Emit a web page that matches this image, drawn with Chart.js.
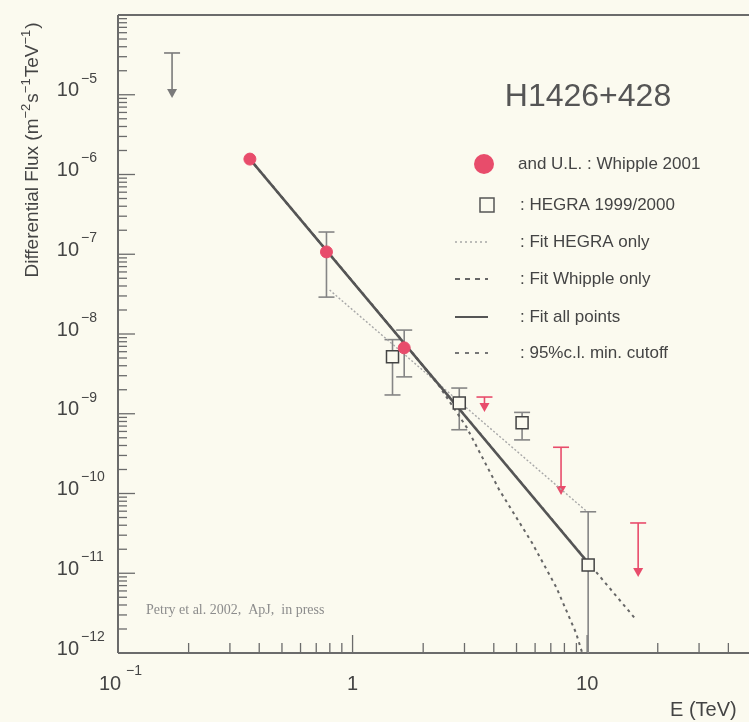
<!DOCTYPE html>
<html><head><meta charset="utf-8">
<script src="https://cdn.jsdelivr.net/npm/chart.js@4.4.1/dist/chart.umd.min.js"></script>
<style>
html,body{margin:0;padding:0;background:#fbfaef;overflow:hidden}
#wrap{width:749px;height:722px;position:relative}
</style></head><body>
<div id="wrap"><canvas id="ch" width="749" height="722"></canvas></div>
<script>
// values: E in TeV, flux in m^-2 s^-1 TeV^-1
const whippleE  = [0.365, 0.774, 1.66];
const whippleF  = [1.56e-6, 1.07e-7, 6.7e-9];
const whippleLo = [null, 2.9e-8, 2.9e-9];
const whippleHi = [null, 1.9e-7, 1.12e-8];

const whippleUlE   = [3.65, 7.74, 16.5];
const whippleUlTop = [1.62e-9, 3.8e-10, 4.27e-11];
const whippleUlTip = [1.05e-9, 9.6e-11, 9.0e-12];

const otherUlE   = [0.17];
const otherUlTop = [3.34e-5];
const otherUlTip = [9.1e-6];

const hegraE  = [1.48, 2.85, 5.28, 10.1];
const hegraF  = [5.2e-9, 1.36e-9, 7.7e-10, 1.27e-11];
const hegraLo = [1.72e-9, 6.3e-10, 4.7e-10, 1e-12];
const hegraHi = [8.5e-9, 2.1e-9, 1.04e-9, 5.9e-11];

const fitAllE  = [0.365, 10.1],  fitAllF  = [1.56e-6, 1.35e-11];
const fitWhipE = [0.365, 16.2],  fitWhipF = [1.56e-6, 2.6e-12];
const fitHegE  = [0.798, 10],    fitHegF  = [3.56e-8, 5.9e-11];
const cutE = [0.365, 1.66, 2.34, 3.06, 4.22, 5.83, 7.38, 8.97, 9.53];
const cutF = [1.56e-6, 7.7e-9, 2.23e-9, 6.8e-10, 1.11e-10, 2.39e-11, 6.7e-12, 1.78e-12, 1e-12];

const xMin=0.1, xMax=44.4, yMin=1e-12, yMax=1e-4;
const yDecades=[-12,-11,-10,-9,-8,-7,-6,-5];
const xDecades=[-1,0,1];
const xLabels=[['10','−1'],['1',''],['10','']];
const legendText=['and U.L. : Whipple 2001',': HEGRA 1999/2000',': Fit HEGRA only',': Fit Whipple only',': Fit all points',': 95%c.l. min. cutoff'];

const BG='#fbfaef';
const C={axis:'#6b6b6b',text:'#444',red:'#e84c6b',err:'#858585',fit:'#555',hegFit:'#a8a8a8'};
const SANS='"Liberation Sans", Arial, sans-serif';
const pts=(xs,ys)=>xs.map((x,i)=>({x,y:ys[i]}));

function line(ctx,x1,y1,x2,y2){ ctx.beginPath(); ctx.moveTo(x1,y1); ctx.lineTo(x2,y2); ctx.stroke(); }

function errBars(ctx,xs,ys,E,lo,hi){
  ctx.strokeStyle=C.err; ctx.lineWidth=1.6;
  E.forEach((e,i)=>{
    if(lo[i]==null) return;
    const px=xs.getPixelForValue(e), a=ys.getPixelForValue(hi[i]), b=Math.min(ys.getPixelForValue(lo[i]),ys.bottom);
    line(ctx,px,a,px,b);
    line(ctx,px-8,a,px+8,a);
    if(b<ys.bottom-1) line(ctx,px-8,b,px+8,b);
  });
}

function upperLimits(ctx,xs,ys,E,top,tip,col){
  ctx.strokeStyle=col; ctx.fillStyle=col; ctx.lineWidth=1.6;
  E.forEach((e,i)=>{
    const px=xs.getPixelForValue(e), a=ys.getPixelForValue(top[i]), b=ys.getPixelForValue(tip[i]);
    line(ctx,px-8,a,px+8,a);
    line(ctx,px,a,px,b-6);
    ctx.beginPath(); ctx.moveTo(px-5,b-9); ctx.lineTo(px+5,b-9); ctx.lineTo(px,b); ctx.closePath(); ctx.fill();
  });
}

// frame, inward log ticks, labels, legend, error bars
const paper={
  id:'paper',
  beforeDatasetsDraw(chart){
    const {ctx,chartArea:ca,scales:{x:xs,y:ys}}=chart;
    ctx.save();
    ctx.strokeStyle=C.axis; ctx.lineWidth=2;
    line(ctx,ca.left,ca.top,chart.width,ca.top);
    line(ctx,ca.left,ca.top,ca.left,ca.bottom);
    line(ctx,ca.left,ca.bottom,chart.width,ca.bottom);
    ctx.lineWidth=1.3;
    yDecades.forEach(d=>{
      for(let k=1;k<=9;k++){
        const v=k*Math.pow(10,d); if(v>=yMax) break;
        const py=ys.getPixelForValue(v);
        line(ctx,ca.left,py,ca.left+(k===1?17:9),py);
      }
    });
    xDecades.forEach(d=>{
      for(let k=1;k<=9;k++){
        const v=k*Math.pow(10,d); if(v>xMax) break;
        const px=xs.getPixelForValue(v);
        line(ctx,px,ca.bottom,px,ca.bottom-(k===1?18:10));
      }
    });

    // tick labels
    ctx.fillStyle=C.text; ctx.textBaseline='middle';
    yDecades.forEach(d=>{
      const py=ys.getPixelForValue(Math.pow(10,d));
      ctx.font='20px '+SANS; ctx.textAlign='right'; ctx.fillText('10',79,py-4);
      ctx.font='14px '+SANS; ctx.textAlign='left'; ctx.fillText('−'+(-d),81,py-16);
    });
    xDecades.forEach((d,i)=>{
      const px=xs.getPixelForValue(Math.pow(10,d)); const [b,s]=xLabels[i];
      ctx.font='20px '+SANS; ctx.textAlign='center';
      ctx.fillText(b,s?px-8:px,ca.bottom+31);
      if(s){ ctx.font='14px '+SANS; ctx.textAlign='left'; ctx.fillText(s,px+8,ca.bottom+18); }
    });

    // axis titles
    ctx.font='20px '+SANS; ctx.textAlign='left';
    ctx.fillText('E (TeV)',670,710);
    const parts=[['Differential Flux (m',0],['−2',1],['s',0],['−1',1],['TeV',0],['−1',1],[')',0]];
    const fz=19, sz=13;
    let tw=0; parts.forEach(([t,s])=>{ ctx.font=(s?sz:fz)+'px '+SANS; tw+=ctx.measureText(t).width+(s?1:0); });
    ctx.save(); ctx.translate(33,150); ctx.rotate(-Math.PI/2);
    let cx=-tw/2;
    parts.forEach(([t,s])=>{ ctx.font=(s?sz:fz)+'px '+SANS; ctx.fillText(t,cx,s?-7:0); cx+=ctx.measureText(t).width+(s?1:0); });
    ctx.restore();

    // source label
    ctx.font='32px '+SANS; ctx.textAlign='center'; ctx.fillStyle='#555';
    ctx.fillText('H1426+428',588,97);

    // legend
    ctx.fillStyle=C.text; ctx.font='17px '+SANS; ctx.textAlign='left';
    const ly=[164,205,242,279,317,353];
    legendText.forEach((t,i)=>ctx.fillText(t,i===0?518:520,ly[i]));
    ctx.fillStyle=C.red; ctx.beginPath(); ctx.arc(484,ly[0],10,0,Math.PI*2); ctx.fill();
    ctx.strokeStyle='#555'; ctx.lineWidth=1.5; ctx.strokeRect(480,ly[1]-7,14,14);
    const samples=[[C.hegFit,1.5,[2,3]],['#666',2,[5,5]],[C.fit,2,[]],['#777',2,[4,6]]];
    samples.forEach(([c,w,dash],i)=>{ ctx.strokeStyle=c; ctx.lineWidth=w; ctx.setLineDash(dash); line(ctx,455,ly[i+2],488,ly[i+2]); });
    ctx.setLineDash([]);

    ctx.font='14px "Liberation Serif", serif'; ctx.fillStyle='#8c8c8c';
    ctx.fillText('Petry et al. 2002,  ApJ,  in press',146,610);

    errBars(ctx,xs,ys,whippleE,whippleLo,whippleHi);
    errBars(ctx,xs,ys,hegraE,hegraLo,hegraHi);
    upperLimits(ctx,xs,ys,whippleUlE,whippleUlTop,whippleUlTip,C.red);
    upperLimits(ctx,xs,ys,otherUlE,otherUlTop,otherUlTip,'#7a7a7a');
    ctx.restore();
  }
};

new Chart(document.getElementById('ch'),{
  type:'scatter',
  data:{datasets:[
    {label:'Whipple 2001',data:pts(whippleE,whippleF),pointStyle:'circle',pointRadius:6,backgroundColor:C.red,borderColor:C.red,borderWidth:1},
    {label:'HEGRA 1999/2000',data:pts(hegraE,hegraF),pointStyle:'rect',pointRadius:8.5,backgroundColor:BG,borderColor:'#444',borderWidth:1.5},
    {label:'Fit all points',data:pts(fitAllE,fitAllF),showLine:true,pointRadius:0,borderColor:C.fit,borderWidth:2.5},
    {label:'Fit Whipple only',data:pts(fitWhipE,fitWhipF),showLine:true,pointRadius:0,borderColor:'#666',borderWidth:2,borderDash:[3,4]},
    {label:'Fit HEGRA only',data:pts(fitHegE,fitHegF),showLine:true,pointRadius:0,borderColor:C.hegFit,borderWidth:1.4,borderDash:[2,2]},
    {label:'95% c.l. min. cutoff',data:pts(cutE,cutF),showLine:true,pointRadius:0,borderColor:'#666',borderWidth:2,borderDash:[3,4]}
  ]},
  options:{
    responsive:false,animation:false,
    layout:{padding:{left:118,top:15,right:1,bottom:69}},
    plugins:{legend:{display:false},tooltip:{enabled:false}},
    scales:{
      x:{type:'logarithmic',min:xMin,max:xMax,ticks:{display:false},grid:{display:false,drawTicks:false},border:{display:false}},
      y:{type:'logarithmic',min:yMin,max:yMax,ticks:{display:false},grid:{display:false,drawTicks:false},border:{display:false}}
    }
  },
  plugins:[paper]
});
</script>
</body></html>
